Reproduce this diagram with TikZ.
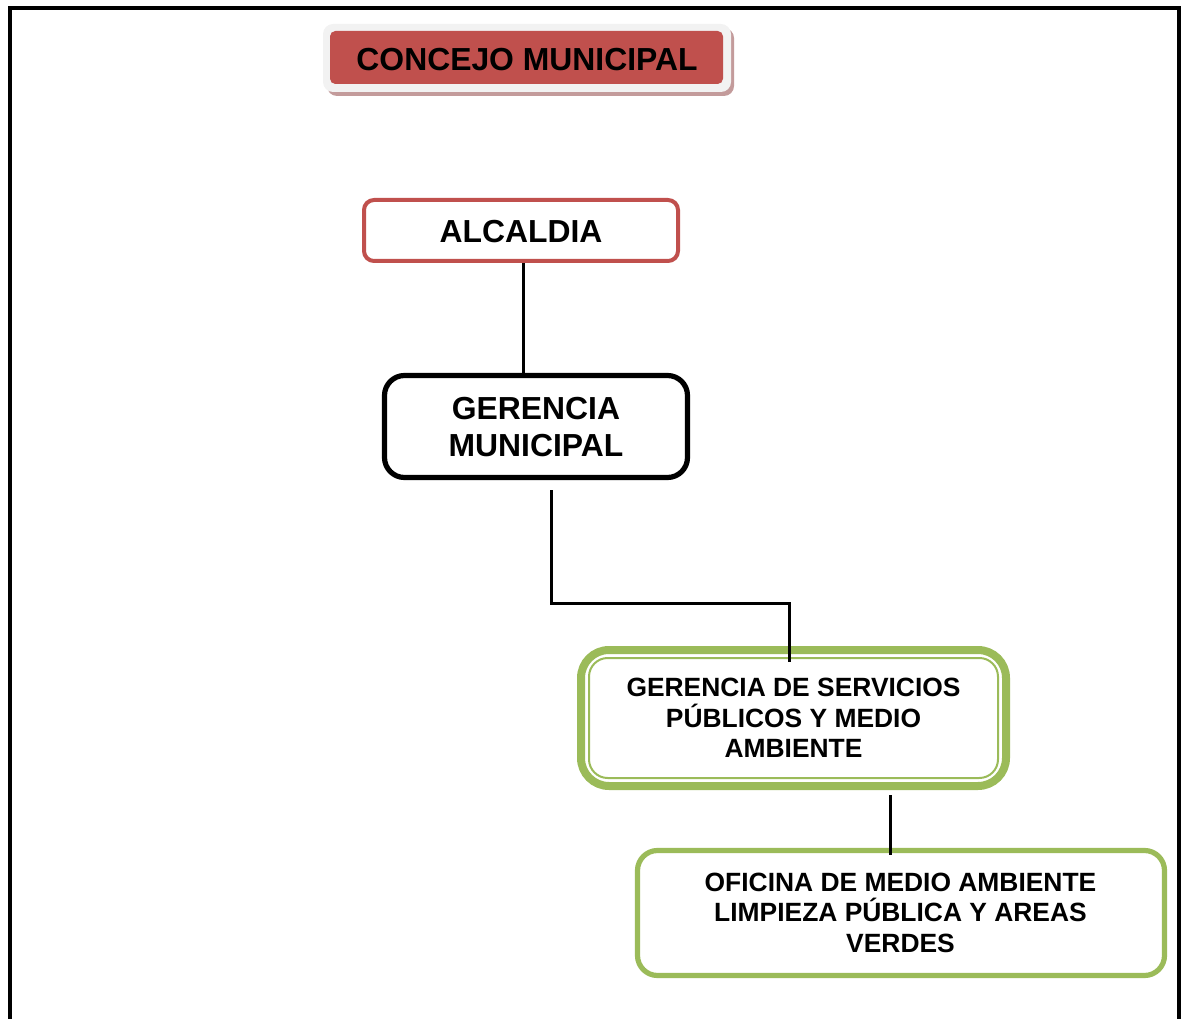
\documentclass[tikz,border=0pt]{standalone}
\usepackage{fontspec}
\setmainfont{Liberation Sans}
\usetikzlibrary{calc}
\definecolor{cmred}{HTML}{C0504D}
\definecolor{cmgreen}{HTML}{9BBB59}
\definecolor{cmshadow}{HTML}{C39B9B}
\definecolor{cmlight}{HTML}{F2F2F2}
\tikzset{
  bigtxt/.style={font=\fontsize{23.9}{27.75}\selectfont\bfseries, align=center, inner sep=0pt},
  smalltxt/.style={font=\fontsize{19.8}{22.8}\selectfont\bfseries, align=center, inner sep=0pt},
  conn/.style={draw=black, line width=2.25pt},
  redbox/.style={draw=cmred, line width=3pt, rounded corners=7.5pt, fill=white},
  blackbox/.style={draw=black, line width=3.9pt, rounded corners=15pt, fill=white},
  greenbox/.style={draw=cmgreen, line width=6pt, rounded corners=21pt, fill=white},
  greenbox2/.style={draw=cmgreen, line width=3.9pt, rounded corners=15pt, fill=white},
}
\begin{document}
\begin{tikzpicture}[x=0.75pt, y=-0.75pt]
\useasboundingbox (0,0) rectangle (1181,1019);
% outer frame
\draw[line width=3pt] (10,1019) -- (10,8) -- (1178.5,8) -- (1178.5,1019);

% CONCEJO MUNICIPAL
\fill[cmshadow, rounded corners=7.5pt] (327,28) rectangle (734,96);
\fill[cmlight, rounded corners=7.5pt] (323,24) rectangle (731,92);
\node[fill=cmred, rounded corners=4pt, minimum width=393*0.75pt, minimum height=53*0.75pt, bigtxt] (con) at (526.5,57.5) {};
\node[bigtxt] (contxt) at (527,60) {CONCEJO MUNICIPAL};

% ALCALDIA
\node[redbox, minimum width=314*0.75pt, minimum height=61*0.75pt] (alc) at (521,230.5) {};
\node[bigtxt] (alctxt) at (521,232) {ALCALDIA};

% GERENCIA MUNICIPAL
\node[blackbox, minimum width=303*0.75pt, minimum height=102*0.75pt] (ger) at (536,426.5) {};
\node[bigtxt] (gertxt) at (536,427.5) {GERENCIA\\MUNICIPAL};

% GERENCIA DE SERVICIOS
\node[greenbox, minimum width=425*0.75pt, minimum height=136*0.75pt] (gsp) at (793.5,718) {};
\draw[draw=cmgreen, line width=1.5pt, rounded corners=14pt] ($(gsp.north west)+(12,12)$) rectangle ($(gsp.south east)+(-12,-12)$);
\node[smalltxt] (gsptxt) at (793.5,718) {GERENCIA DE SERVICIOS\\P\'UBLICOS Y MEDIO\\AMBIENTE};

% OFICINA
\node[greenbox2, minimum width=527*0.75pt, minimum height=125*0.75pt] (ofi) at (901,913) {};
\node[smalltxt, font=\fontsize{19.8}{22.9}\selectfont\bfseries] (ofitxt) at (900.5,912.5) {OFICINA DE MEDIO AMBIENTE\\LIMPIEZA P\'UBLICA Y AREAS\\VERDES};

% connectors
\draw[conn] ([xshift=1.5pt]alc.south) -- ([xshift=1.5pt]alc.south |- ger.north);
\coordinate (c1) at ($(ger.south)+(15,10)$);
\draw[conn] (c1) -- ++(0,113) -| ($(gsp.north)+(-4.5,16)$);
\coordinate (c2) at ($(gsp.south)+(96.5,5)$);
\draw[conn] (c2) -- ([yshift=-5.25pt]c2 |- ofi.north);
\end{tikzpicture}
\end{document}
